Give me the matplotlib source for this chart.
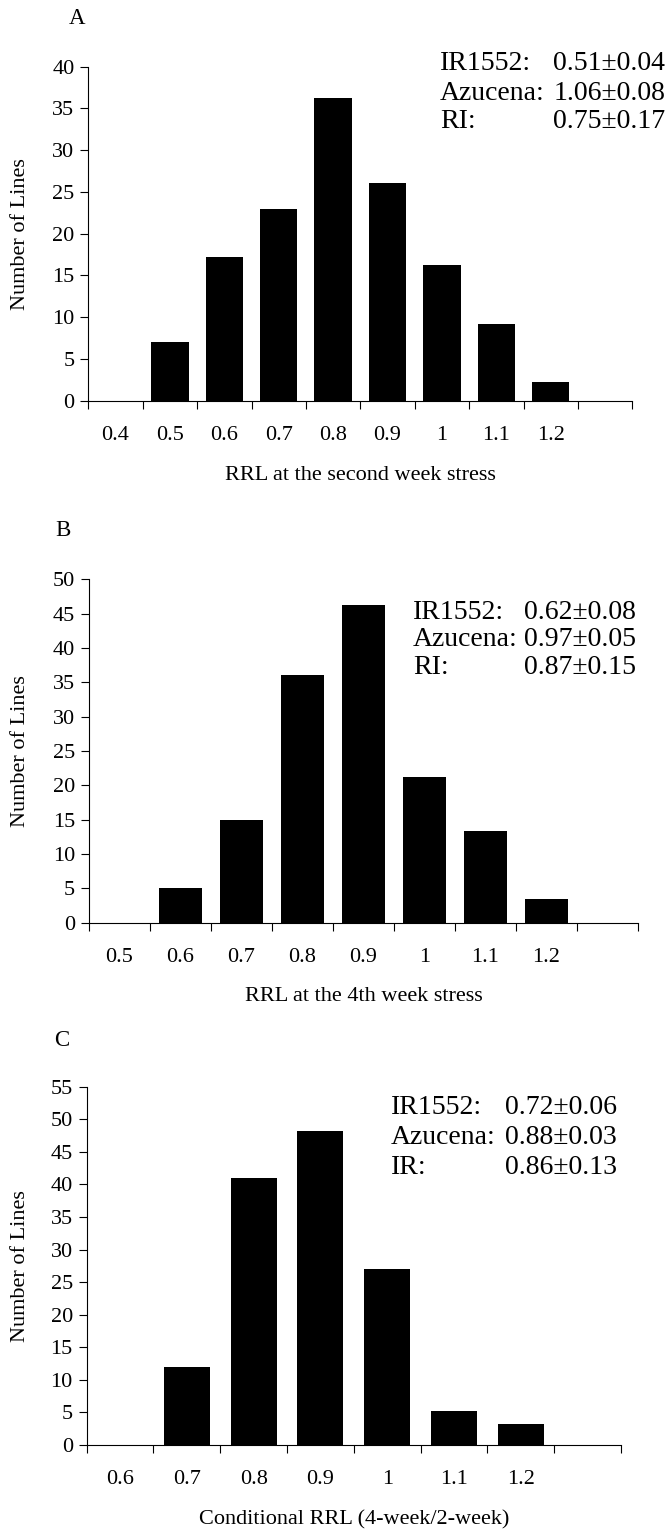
import matplotlib
matplotlib.use("Agg")
import matplotlib.pyplot as plt
import numpy as np

plt.rcParams['font.family'] = ['Liberation Serif', 'DejaVu Serif']

# ---- data ----
A_cats = ['0.4', '0.5', '0.6', '0.7', '0.8', '0.9', '1', '1.1', '1.2', '']
A_vals = [0, 7, 17.2, 23, 36.2, 26.1, 16.2, 9.2, 2.2, 0]
A_yticks = [0, 5, 10, 15, 20, 25, 30, 35, 40]
A_xlabel = 'RRL at the second week stress'
A_names = ['IR1552:', 'Azucena:', 'RI:']
A_stats = ['0.51\u00b10.04', '1.06\u00b10.08', '0.75\u00b10.17']

B_cats = ['0.5', '0.6', '0.7', '0.8', '0.9', '1', '1.1', '1.2', '']
B_vals = [0, 5, 15, 36, 46.2, 21.2, 13.3, 3.4, 0]
B_yticks = [0, 5, 10, 15, 20, 25, 30, 35, 40, 45, 50]
B_xlabel = 'RRL at the 4th week stress'
B_names = ['IR1552:', 'Azucena:', 'RI:']
B_stats = ['0.62\u00b10.08', '0.97\u00b10.05', '0.87\u00b10.15']

C_cats = ['0.6', '0.7', '0.8', '0.9', '1', '1.1', '1.2', '']
C_vals = [0, 12, 41, 48.2, 27, 5.2, 3.3, 0]
C_yticks = [0, 5, 10, 15, 20, 25, 30, 35, 40, 45, 50, 55]
C_xlabel = 'Conditional RRL (4-week/2-week)'
C_names = ['IR1552:', 'Azucena:', 'IR:']
C_stats = ['0.72\u00b10.06', '0.88\u00b10.03', '0.86\u00b10.13']

W, H = 669, 1540
fig = plt.figure(figsize=(W / 100, H / 100), dpi=100)

TICK_FS = 16
ANN_FS = 20


def px_rect(x0, x1, ytop, ybot):
    return [x0 / W, 1 - ybot / H, (x1 - x0) / W, (ybot - ytop) / H]


def panel(rect, cats, vals, yticks, xlabel, letter, letter_xy, names, stats,
          name_x, stat_x, rows_y):
    ax = fig.add_axes(rect)
    n = len(cats)
    pos = np.arange(n) + 0.5
    ax.bar(pos, vals, width=0.69, color='black', edgecolor='black', linewidth=0)
    ax.set_xlim(0, n)
    ax.set_ylim(0, yticks[-1])
    ax.set_yticks(yticks)
    ax.set_xticks(np.arange(n + 1))
    ax.set_xticklabels([''] * (n + 1))
    ax.set_xticks(pos, minor=True)
    ax.set_xticklabels(cats, minor=True)
    ax.tick_params(axis='x', which='major', direction='out', length=6, width=0.8)
    ax.tick_params(axis='x', which='minor', length=0, pad=18, labelsize=TICK_FS)
    ax.tick_params(axis='y', direction='out', length=6, width=0.8, pad=4,
                   labelsize=TICK_FS)
    for s in ['top', 'right']:
        ax.spines[s].set_visible(False)
    for s in ['left', 'bottom']:
        ax.spines[s].set_linewidth(0.8)
    ax.set_xlabel(xlabel, fontsize=TICK_FS, labelpad=15)
    ax.set_ylabel('Number of Lines', fontsize=TICK_FS)
    ax.yaxis.set_label_coords((30 - rect[0] * W) / (rect[2] * W), 0.5)
    fig.text(letter_xy[0] / W, 1 - letter_xy[1] / H, letter, fontsize=16.5,
             ha='center', va='center')
    for nm, st, y in zip(names, stats, rows_y):
        fig.text(name_x / W, 1 - y / H, nm, fontsize=ANN_FS, ha='left', va='center')
        fig.text(stat_x / W, 1 - y / H, st, fontsize=ANN_FS, ha='right', va='center')
    return ax


panel(px_rect(88.3, 632.3, 66.7, 400.7), A_cats, A_vals, A_yticks, A_xlabel,
      'A', (77, 18), A_names, A_stats, 440, 665, [64, 93, 122])
panel(px_rect(89, 638, 579.3, 922.6), B_cats, B_vals, B_yticks, B_xlabel,
      'B', (63, 531), B_names, B_stats, 413, 636, [613, 640, 667])
panel(px_rect(86.7, 621, 1086.7, 1445), C_cats, C_vals, C_yticks, C_xlabel,
      'C', (62, 1040), C_names, C_stats, 391, 617, [1108, 1138, 1168])

fig.savefig('out.png', dpi=100, facecolor='white')
